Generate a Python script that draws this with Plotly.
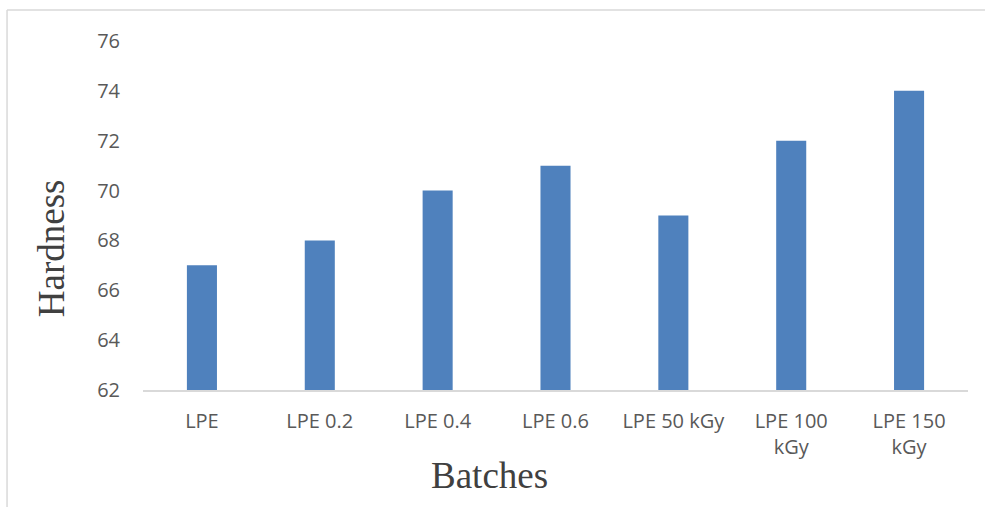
import plotly.graph_objects as go

categories = ["LPE", "LPE 0.2", "LPE 0.4", "LPE 0.6", "LPE 50 kGy", "LPE 100<br>kGy", "LPE 150<br>kGy"]
hardness = [67, 68, 70, 71, 69, 72, 74]
y_ticks = [62, 64, 66, 68, 70, 72, 74, 76]
y_base = 62

fig = go.Figure(go.Bar(x=categories, y=[v - y_base for v in hardness], base=y_base,
                       marker_color="#4F81BD", width=0.255, marker_line_width=0))

fig.update_layout(
    width=985, height=507,
    margin=dict(l=143, r=17, t=41, b=117),
    plot_bgcolor="white", paper_bgcolor="white",
    showlegend=False,
    font=dict(family="Open Sans", size=20, color="#595959"),
    xaxis=dict(showline=True, linecolor="#d9d9d9", linewidth=1.5, ticks="", showgrid=False,
               tickfont=dict(size=20, color="#595959"), ticklabelstandoff=12),
    yaxis=dict(range=[62, 76], tickvals=y_ticks, showgrid=False, zeroline=False, showline=False,
               tickfont=dict(size=20, color="#595959"), ticklabelstandoff=22),
    annotations=[
        dict(text="Hardness", xref="paper", yref="paper", x=-0.110, y=0.407, textangle=-90,
             showarrow=False, font=dict(family="Liberation Serif", size=37, color="#404040"),
             xanchor="center", yanchor="middle"),
        dict(text="Batches", xref="paper", yref="paper", x=0.4206, y=-0.2436,
             showarrow=False, font=dict(family="Liberation Serif", size=37, color="#404040"),
             xanchor="center", yanchor="middle"),
    ],
    shapes=[
        dict(type="line", xref="paper", yref="paper", x0=-0.1648, x1=1.1, y0=1.089, y1=1.089,
             line=dict(color="#d9d9d9", width=1.5)),
        dict(type="line", xref="paper", yref="paper", x0=-0.1648, x1=-0.1648, y0=1.089, y1=-0.4,
             line=dict(color="#d9d9d9", width=1.5)),
    ],
)

fig.write_html("out.html", config={"displayModeBar": False},
               post_script="document.body.style.margin='0px';")
